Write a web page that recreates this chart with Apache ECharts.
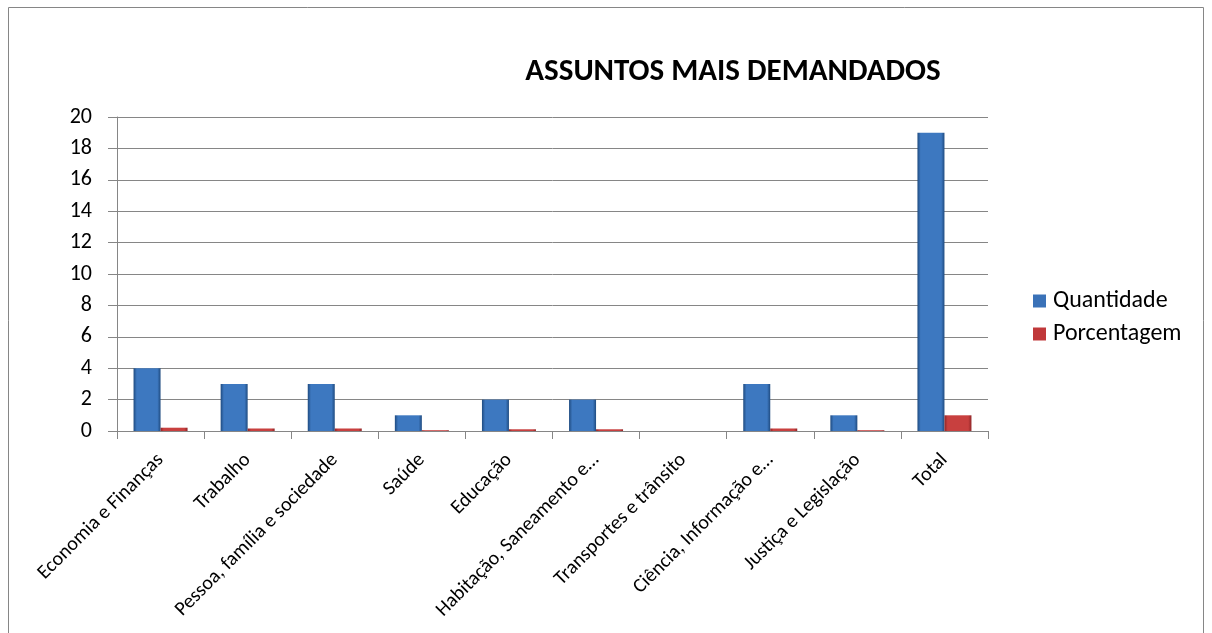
<!DOCTYPE html>
<html><head><meta charset="utf-8">
<script src="https://cdn.jsdelivr.net/npm/echarts@6/dist/echarts.min.js"></script>
<style>html,body{margin:0;padding:0;background:#fff}#c{width:1212px;height:633px}</style>
</head><body><div id="c"></div>
<script>
const categories = ["Economia e Finanças","Trabalho","Pessoa, família e sociedade","Saúde","Educação","Habitação, Saneamento e…","Transportes e trânsito","Ciência, Informação e…","Justiça e Legislação","Total"];
const quantidade = [4,3,3,1,2,2,0,3,1,19];
const porcentagem = [0.21,0.16,0.16,0.05,0.11,0.11,0,0.16,0.05,1];
const yTicks = {min:0,max:20,interval:2};

const font = "Carlito, Lato, 'Open Sans', sans-serif";
function grad(dark, light){
  return new echarts.graphic.LinearGradient(0,0,1,0,[
    {offset:0,color:dark},{offset:0.12,color:light},{offset:0.5,color:light},{offset:0.88,color:light},{offset:1,color:dark}]);
}
const chart = echarts.init(document.getElementById('c'));
chart.setOption({
  animation:false,
  graphic:[{type:'rect',shape:{x:8.5,y:7.5,width:1195,height:640},style:{fill:'none',stroke:'#868686',lineWidth:1},silent:true}],
  title:{text:'ASSUNTOS MAIS DEMANDADOS',left:728,top:52,textAlign:'center',
    textStyle:{fontFamily:font,fontSize:31,fontWeight:'bold',color:'#000'}},
  legend:{orient:'vertical',left:1028,top:284,itemWidth:13,itemHeight:13,itemGap:9,icon:'rect',
    textStyle:{fontFamily:font,fontSize:24,color:'#000',padding:[0,0,0,2]},
    data:[{name:'Quantidade',itemStyle:{color:'#3a72b8'}},{name:'Porcentagem',itemStyle:{color:'#c0383a'}}]},
  grid:{left:117,right:224,top:117,bottom:202,containLabel:false},
  xAxis:{type:'category',data:categories,
    axisLine:{lineStyle:{color:'#868686'}},
    axisTick:{show:true,length:8,lineStyle:{color:'#868686'}},
    axisLabel:{rotate:45,interval:0,fontFamily:font,fontSize:20,color:'#000',margin:26}},
  yAxis:{type:'value',min:yTicks.min,max:yTicks.max,interval:yTicks.interval,
    axisLine:{show:true,lineStyle:{color:'#868686'}},
    axisTick:{show:true,length:9,lineStyle:{color:'#868686'}},
    splitLine:{lineStyle:{color:'#868686'}},
    axisLabel:{fontFamily:font,fontSize:22,color:'#000',margin:25}},
  series:[
    {name:'Quantidade',type:'bar',data:quantidade,barWidth:27,barGap:'0%',
      itemStyle:{color:grad('#1f4b80','#3d78c0')}},
    {name:'Porcentagem',type:'bar',data:porcentagem,barWidth:27,
      itemStyle:{color:grad('#8f2527','#c8403f')}}
  ]
});
</script></body></html>
